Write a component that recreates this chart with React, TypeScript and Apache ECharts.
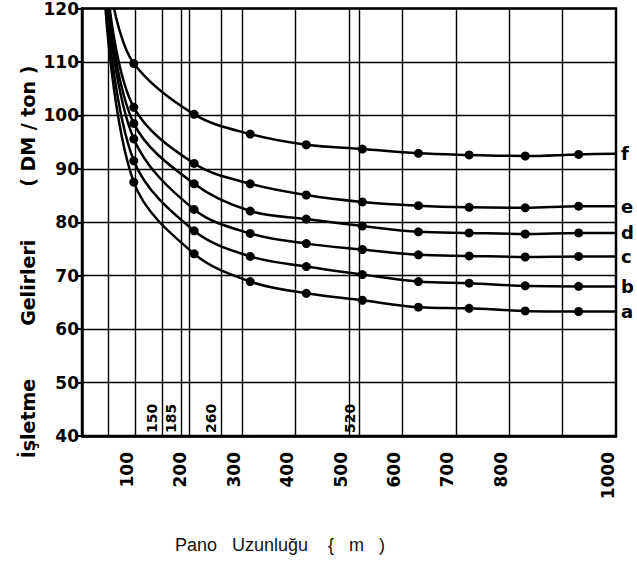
import React, { useEffect, useRef } from 'react';
import * as echarts from 'echarts';

// x positions (m) of the plotted points
const xPositions = [97, 210, 315, 420, 525, 630, 725, 830, 930];
const curveNames = ['a', 'b', 'c', 'd', 'e', 'f'];
// where each curve leaves the top (120) of the chart
const startX = [44, 46, 48, 50, 52, 60];
const valuesA = [87.5, 74.1, 68.9, 66.7, 65.4, 64.1, 63.9, 63.4, 63.3];
const valuesB = [91.5, 78.4, 73.6, 71.7, 70.2, 68.9, 68.6, 68.1, 68.0];
const valuesC = [95.6, 82.4, 77.9, 76.0, 74.9, 73.9, 73.7, 73.5, 73.6];
const valuesD = [98.5, 87.2, 82.1, 80.6, 79.3, 78.2, 78.0, 77.8, 78.0];
const valuesE = [101.5, 91.0, 87.2, 85.1, 83.8, 83.1, 82.8, 82.7, 83.0];
const valuesF = [109.7, 100.2, 96.5, 94.5, 93.7, 92.9, 92.6, 92.4, 92.7];
// value of each curve at the right edge (1000 m)
const endValues = [63.3, 68.0, 73.6, 78.0, 83.0, 92.8];

const xTickLabels = [100, 200, 300, 400, 500, 600, 700, 800, 1000];
const verticalGridLines = [50, 100, 200, 300, 400, 500, 600, 700, 800, 900];
const markedLengths = [150, 185, 260, 520];

const yTitle = 'İşletme        Gelirleri        ( DM / ton )';
const xTitle = 'Pano   Uzunluğu    {   m   )';

export default function App() {
  const ref = useRef<HTMLDivElement>(null);
  useEffect(() => {
    const chart = echarts.init(ref.current!, null, { renderer: 'svg' });
    const valueSets = [valuesA, valuesB, valuesC, valuesD, valuesE, valuesF];
    const series: any[] = curveNames.map((name, i) => ({
      name,
      type: 'line',
      smooth: 0.35,
      symbol: 'circle',
      symbolSize: 9,
      itemStyle: { color: '#000' },
      lineStyle: { color: '#000', width: 2.5 },
      data: [
        { value: [startX[i], 120], symbol: 'none' },
        ...xPositions.map((x, j) => [x, valueSets[i][j]]),
        { value: [1000, endValues[i]], symbol: 'none' },
      ],
      endLabel: {
        show: true,
        formatter: '{a}',
        color: '#000',
        fontWeight: 'bold',
        fontSize: 18,
        fontFamily: 'DejaVu Sans',
        distance: 5,
      },
      z: 3,
    }));
    series[0].markLine = {
      silent: true,
      symbol: 'none',
      animation: false,
      lineStyle: { color: '#000', width: 1.4, type: 'solid' },
      data: [
        ...verticalGridLines.map((v) => ({ xAxis: v, label: { show: false } })),
        ...markedLengths.map((v) => ({
          xAxis: v,
          label: {
            show: true,
            formatter: String(v),
            position: 'insideStartTop',
            distance: 3,
            color: '#000',
            fontWeight: 'bold',
            fontSize: 14,
            fontFamily: 'DejaVu Sans',
          },
        })),
      ],
    };

    chart.setOption({
      animation: false,
      backgroundColor: '#fff',
      grid: {
        left: 82,
        right: 21,
        top: 7,
        bottom: 129,
        show: true,
        borderColor: '#000',
        borderWidth: 2.5,
      },
      xAxis: {
        type: 'value',
        min: 0,
        max: 1000,
        axisLine: { show: true, lineStyle: { color: '#000', width: 2.5 } },
        axisTick: { show: false },
        splitLine: { show: false },
        axisLabel: {
          customValues: xTickLabels,
          formatter: (v: number) => String(v),
          rotate: 90,
          verticalAlign: 'bottom',
          margin: 16,
          color: '#000',
          fontWeight: 'bold',
          fontSize: 17,
          fontFamily: 'DejaVu Sans',
        },
      },
      yAxis: {
        type: 'value',
        min: 40,
        max: 120,
        interval: 10,
        axisLine: { show: true, lineStyle: { color: '#000', width: 2.5 } },
        axisTick: { show: true, length: 4, lineStyle: { color: '#000', width: 2 } },
        splitLine: { show: true, lineStyle: { color: '#000', width: 1.4 } },
        axisLabel: {
          margin: 3,
          color: '#000',
          fontWeight: 'bold',
          fontSize: 17,
          fontFamily: 'DejaVu Sans',
        },
      },
      graphic: [
        {
          type: 'text',
          x: 28,
          y: 262,
          rotation: Math.PI / 2,
          style: {
            text: yTitle,
            fill: '#000',
            font: 'bold 19px "DejaVu Sans"',
            align: 'center',
            verticalAlign: 'middle',
          },
        },
        {
          type: 'text',
          x: 280,
          y: 545,
          style: {
            text: xTitle,
            fill: '#111',
            font: '18px "Liberation Sans", Arial, sans-serif',
            align: 'center',
            verticalAlign: 'middle',
          },
        },
      ],
      series,
    });
    return () => chart.dispose();
  }, []);
  return (
    <div
      ref={ref}
      style={{ position: 'fixed', left: 0, top: 0, width: 637, height: 565, background: '#fff' }}
    />
  );
}
